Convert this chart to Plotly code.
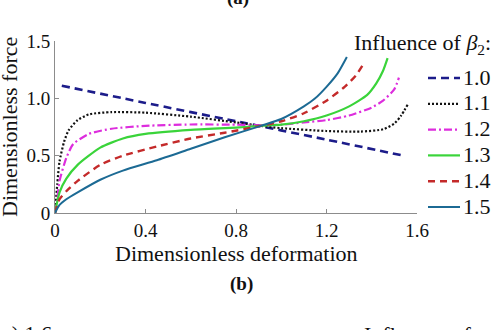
import plotly.graph_objects as go

# Dimensionless force vs. dimensionless deformation for several beta_2 values
beta_labels = ["1.0", "1.1", "1.2", "1.3", "1.4", "1.5"]

x_10 = [0.03, 0.4, 0.8, 1.2, 1.54]
y_10 = [1.11, 0.96, 0.80, 0.64, 0.50]

x_11 = [0.0, 0.01, 0.02, 0.04, 0.06, 0.1, 0.15, 0.25, 0.4, 0.6, 0.8, 0.91, 1.0, 1.2, 1.35, 1.45, 1.5, 1.53, 1.56]
y_11 = [0.0, 0.25, 0.45, 0.62, 0.72, 0.81, 0.86, 0.88, 0.875, 0.84, 0.79, 0.76, 0.74, 0.715, 0.71, 0.73, 0.78, 0.85, 0.95]

x_12 = [0.0, 0.01, 0.02, 0.05, 0.08, 0.15, 0.25, 0.4, 0.6, 0.8, 0.91, 1.0, 1.1, 1.2, 1.3, 1.4, 1.45, 1.5, 1.52]
y_12 = [0.0, 0.12, 0.28, 0.48, 0.6, 0.69, 0.735, 0.76, 0.772, 0.77, 0.765, 0.77, 0.79, 0.81, 0.85, 0.92, 0.98, 1.08, 1.18]

x_13 = [0.0, 0.02, 0.05, 0.1, 0.2, 0.3, 0.4, 0.6, 0.8, 0.91, 1.0, 1.1, 1.2, 1.3, 1.38, 1.42, 1.45, 1.47]
y_13 = [0.0, 0.18, 0.3, 0.42, 0.57, 0.65, 0.69, 0.725, 0.745, 0.76, 0.77, 0.8, 0.85, 0.93, 1.03, 1.13, 1.24, 1.35]

x_14 = [0.0, 0.02, 0.05, 0.1, 0.2, 0.3, 0.45, 0.6, 0.75, 0.91, 1.0, 1.1, 1.2, 1.28, 1.33, 1.37]
y_14 = [0.0, 0.12, 0.19, 0.28, 0.42, 0.5, 0.58, 0.65, 0.70, 0.76, 0.8, 0.87, 0.98, 1.1, 1.2, 1.32]

x_15 = [0.0, 0.02, 0.05, 0.1, 0.2, 0.3, 0.45, 0.6, 0.75, 0.91, 1.0, 1.1, 1.15, 1.2, 1.25, 1.29]
y_15 = [0.0, 0.07, 0.12, 0.18, 0.29, 0.37, 0.46, 0.56, 0.66, 0.76, 0.82, 0.93, 1.0, 1.1, 1.22, 1.36]

series_x = [x_10, x_11, x_12, x_13, x_14, x_15]
series_y = [y_10, y_11, y_12, y_13, y_14, y_15]
colors = ["#1c1c8a", "#111111", "#dd2ddd", "#3ad43a", "#c42a2a", "#1c6a94"]
dashes = ["8px,5px", "2px,2px", "8px,3px,2px,3px", "solid", "7px,5px", "solid"]
widths = [2.6, 2.2, 2.2, 2.2, 2.4, 2.0]

x_ticks = [0, 0.4, 0.8, 1.2, 1.6]
x_tick_text = ["0", "0.4", "0.8", "1.2", "1.6"]
y_ticks = [0, 0.5, 1.0, 1.5]
y_tick_text = ["0", "0.5", "1.0", "1.5"]

FONT = "Liberation Serif, Times New Roman, serif"
W, H = 500, 330
L, R, T, B = 55, 83, 41, 117
PW, PH = W - L - R, H - T - B


def px(xp):
    return (xp - L) / PW


def py(yp):
    return (H - B - yp) / PH


fig = go.Figure()
for xs, ys, c, d, w, name in zip(series_x, series_y, colors, dashes, widths, beta_labels):
    fig.add_trace(go.Scatter(
        x=xs, y=ys, mode="lines", name=name,
        line=dict(color=c, dash=d, width=w, shape="spline", smoothing=0.6),
        showlegend=False,
    ))

annotations = [
    dict(text="Dimensionless deformation", x=px(236), y=py(253), xref="paper", yref="paper",
         showarrow=False, font=dict(size=22, family=FONT, color="#111"), xanchor="center", yanchor="middle"),
    dict(text="Dimensionless force", x=px(9), y=py(127), xref="paper", yref="paper", textangle=-90,
         showarrow=False, font=dict(size=22, family=FONT, color="#111"), xanchor="center", yanchor="middle"),
    dict(text="Influence of <i>β</i><sub>2</sub>:", x=px(352), y=py(44), xref="paper", yref="paper",
         showarrow=False, font=dict(size=22, family=FONT, color="#111"), xanchor="left", yanchor="middle"),
    dict(text="<b>(a)</b>", x=px(238), y=py(-2), xref="paper", yref="paper",
         showarrow=False, font=dict(size=19, family=FONT, color="#111"), xanchor="center", yanchor="middle"),
    dict(text="<b>(b)</b>", x=px(241), y=py(284), xref="paper", yref="paper",
         showarrow=False, font=dict(size=19, family=FONT, color="#111"), xanchor="center", yanchor="middle"),
    dict(text="c) 1.6", x=px(0), y=py(333), xref="paper", yref="paper",
         showarrow=False, font=dict(size=22, family=FONT, color="#111"), xanchor="left", yanchor="middle"),
    dict(text="Influence of", x=px(362), y=py(334), xref="paper", yref="paper",
         showarrow=False, font=dict(size=22, family=FONT, color="#111"), xanchor="left", yanchor="middle"),
]

shapes = []
row0, step = 77, 25.8
for i, (name, c, d, w) in enumerate(zip(beta_labels, colors, dashes, widths)):
    yrow = row0 + step * i
    shapes.append(dict(type="line", xref="paper", yref="paper",
                       x0=px(428), x1=px(460), y0=py(yrow + 1), y1=py(yrow + 1),
                       line=dict(color=c, dash=d, width=w)))
    annotations.append(dict(text=name, x=px(461), y=py(yrow), xref="paper", yref="paper",
                            showarrow=False, font=dict(size=22, family=FONT, color="#111"),
                            xanchor="left", yanchor="middle"))

axis_common = dict(showline=True, linecolor="#8c8c8c", linewidth=1, ticks="inside", ticklen=4,
                   tickcolor="#8c8c8c", showgrid=False, zeroline=False,
                   tickfont=dict(size=19, family=FONT, color="#111"))

fig.update_layout(
    width=W, height=H,
    margin=dict(l=L, r=R, t=T, b=B, pad=0),
    paper_bgcolor="white", plot_bgcolor="white",
    xaxis=dict(range=[0, 1.6], tickvals=x_ticks, ticktext=x_tick_text, **axis_common),
    yaxis=dict(range=[0, 1.5], tickvals=y_ticks, ticktext=y_tick_text, **axis_common),
    annotations=annotations, shapes=shapes, showlegend=False,
)

fig.write_html("out.html")
